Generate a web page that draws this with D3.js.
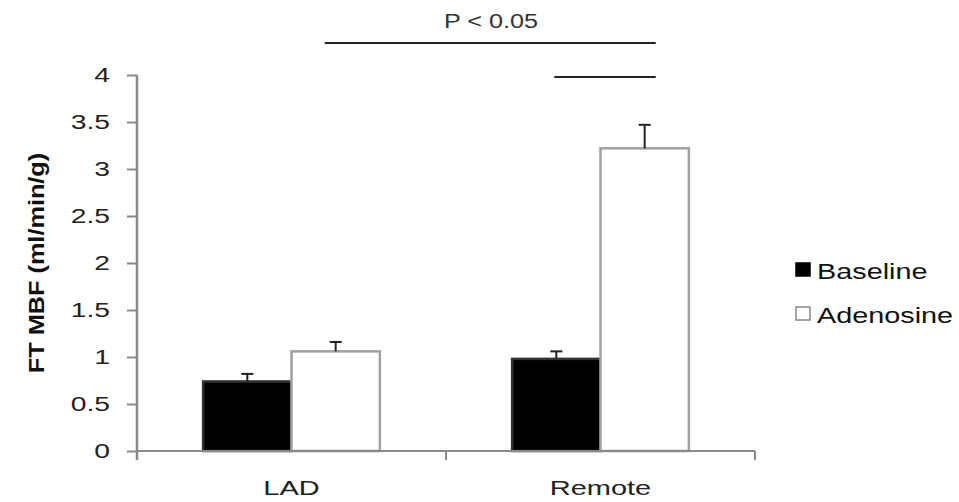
<!DOCTYPE html>
<html>
<head>
  <meta charset="utf-8" />
  <title>FT MBF</title>
  <style>
    html, body { margin: 0; padding: 0; background: #fff; }
    svg text { font-family: "Liberation Sans", Arial, sans-serif; }
  </style>
</head>
<body>
<svg id="chart" width="959" height="502"></svg>
<script src="https://d3js.org/d3.v7.min.js"></script>
<script>
  // data
  const categories = ["LAD", "Remote"];
  const series = ["Baseline", "Adenosine"];
  const baselineVals = [0.74, 0.98];
  const adenosineVals = [1.06, 3.22];
  const baselineErr = [0.08, 0.08];
  const adenosineErr = [0.10, 0.25];
  const yTicks = [0, 0.5, 1, 1.5, 2, 2.5, 3, 3.5, 4];
  const sigBars = [
    { from: ["LAD", "Adenosine"], to: ["Remote", "Adenosine"], level: 4.34 },
    { from: ["Remote", "Baseline"], to: ["Remote", "Adenosine"], level: 3.98 }
  ];

  const svg = d3.select("#chart");
  const mLeft = 137, mRight = 755, mTop = 75, mBottom = 451;
  const stretch = 1.35; // source picture is stretched sideways

  const x = d3.scaleBand().domain(categories).range([mLeft, mRight]);
  const pad = x.bandwidth() * 0.214;
  const x1 = d3.scaleBand().domain(series).range([pad, x.bandwidth() - pad]);
  const y = d3.scaleLinear().domain([0, 4]).range([mBottom, mTop]);

  const rows = categories.map((c, i) => ({
    cat: c,
    vals: [
      { s: "Baseline", v: baselineVals[i], e: baselineErr[i] },
      { s: "Adenosine", v: adenosineVals[i], e: adenosineErr[i] }
    ]
  }));

  // bars
  const groups = svg.append("g").selectAll("g.cat").data(rows).enter().append("g")
    .attr("transform", d => `translate(${x(d.cat)},0)`);

  groups.selectAll("rect").data(d => d.vals).enter().append("rect")
    .attr("x", d => x1(d.s))
    .attr("width", x1.bandwidth())
    .attr("y", d => y(d.v))
    .attr("height", d => y(0) - y(d.v))
    .attr("fill", d => d.s === "Baseline" ? "#000" : "#fff")
    .attr("stroke", d => d.s === "Baseline" ? "#333" : "#a0a0a0")
    .attr("stroke-width", 2.5);

  // error bars (upper only)
  groups.selectAll("g.err").data(d => d.vals).enter().append("g")
    .each(function (d) {
      const cx = x1(d.s) + x1.bandwidth() / 2;
      const sel = d3.select(this);
      sel.append("line").attr("x1", cx).attr("x2", cx)
        .attr("y1", y(d.v)).attr("y2", y(d.v + d.e))
        .attr("stroke", "#222").attr("stroke-width", 2);
      sel.append("line").attr("x1", cx - 6).attr("x2", cx + 6)
        .attr("y1", y(d.v + d.e)).attr("y2", y(d.v + d.e))
        .attr("stroke", "#222").attr("stroke-width", 2);
    });

  // y axis
  const yAxis = d3.axisLeft(y).tickValues(yTicks).tickSize(10)
    .tickFormat(d => String(d));
  const ya = svg.append("g").attr("transform", `translate(${mLeft},0)`).call(yAxis);
  ya.select(".domain").remove();
  ya.selectAll(".tick line").attr("stroke", "#8a8a8a").attr("stroke-width", 2);
  ya.selectAll(".tick text")
    .attr("x", null)
    .attr("transform", "translate(-27,0) scale(1.45,1)")
    .attr("font-size", 19.5).attr("fill", "#222");
  svg.append("line").attr("x1", mLeft).attr("x2", mLeft)
    .attr("y1", mTop).attr("y2", mBottom + 9)
    .attr("stroke", "#8a8a8a").attr("stroke-width", 2.5);

  // x axis
  svg.append("line").attr("x1", mLeft).attr("x2", mRight)
    .attr("y1", mBottom).attr("y2", mBottom)
    .attr("stroke", "#8a8a8a").attr("stroke-width", 2);
  const bounds = [mLeft].concat(categories.map(c => x(c) + x.bandwidth()));
  svg.selectAll("line.xtick").data(bounds).enter().append("line")
    .attr("x1", d => d).attr("x2", d => d)
    .attr("y1", mBottom).attr("y2", mBottom + 9)
    .attr("stroke", "#8a8a8a").attr("stroke-width", 2);
  svg.selectAll("text.xlab").data(categories).enter().append("text")
    .attr("transform", d => `translate(${x(d) + x.bandwidth() / 2},495) scale(1.38,1)`)
    .attr("text-anchor", "middle")
    .attr("font-size", 21).attr("fill", "#222")
    .text(d => d);

  // y title
  svg.append("text")
    .attr("transform", `translate(36,${(mTop + mBottom) / 2}) rotate(-90) scale(1.15,1)`)
    .attr("text-anchor", "middle")
    .attr("dy", "0.35em")
    .attr("font-size", 22).attr("font-weight", "bold").attr("fill", "#111")
    .text("FT MBF (ml/min/g)");

  // significance lines
  const cxOf = p => x(p[0]) + x1(p[1]) + x1.bandwidth() / 2;
  svg.selectAll("line.sig").data(sigBars).enter().append("line")
    .attr("x1", d => cxOf(d.from) - (d.from[0] === d.to[0] ? 2 : 11))
    .attr("x2", d => cxOf(d.to) + 11)
    .attr("y1", d => y(d.level)).attr("y2", d => y(d.level))
    .attr("stroke", "#222").attr("stroke-width", 2);
  svg.append("text")
    .attr("transform", "translate(491,28) scale(1.2,1)")
    .attr("text-anchor", "middle")
    .attr("font-size", 21).attr("fill", "#333")
    .text("P < 0.05");

  // legend
  const legend = svg.append("g");
  const ly = [270, 314];
  series.forEach((s, i) => {
    legend.append("rect")
      .attr("x", 796).attr("y", ly[i] - 7).attr("width", 14).attr("height", 13)
      .attr("fill", i === 0 ? "#000" : "#fff")
      .attr("stroke", i === 0 ? "#000" : "#888").attr("stroke-width", 1.5);
    legend.append("text")
      .attr("transform", `translate(817,${ly[i] + 9}) scale(${stretch * 0.97},1)`)
      .attr("font-size", 22).attr("fill", "#111")
      .text(s);
  });
</script>
</body>
</html>
